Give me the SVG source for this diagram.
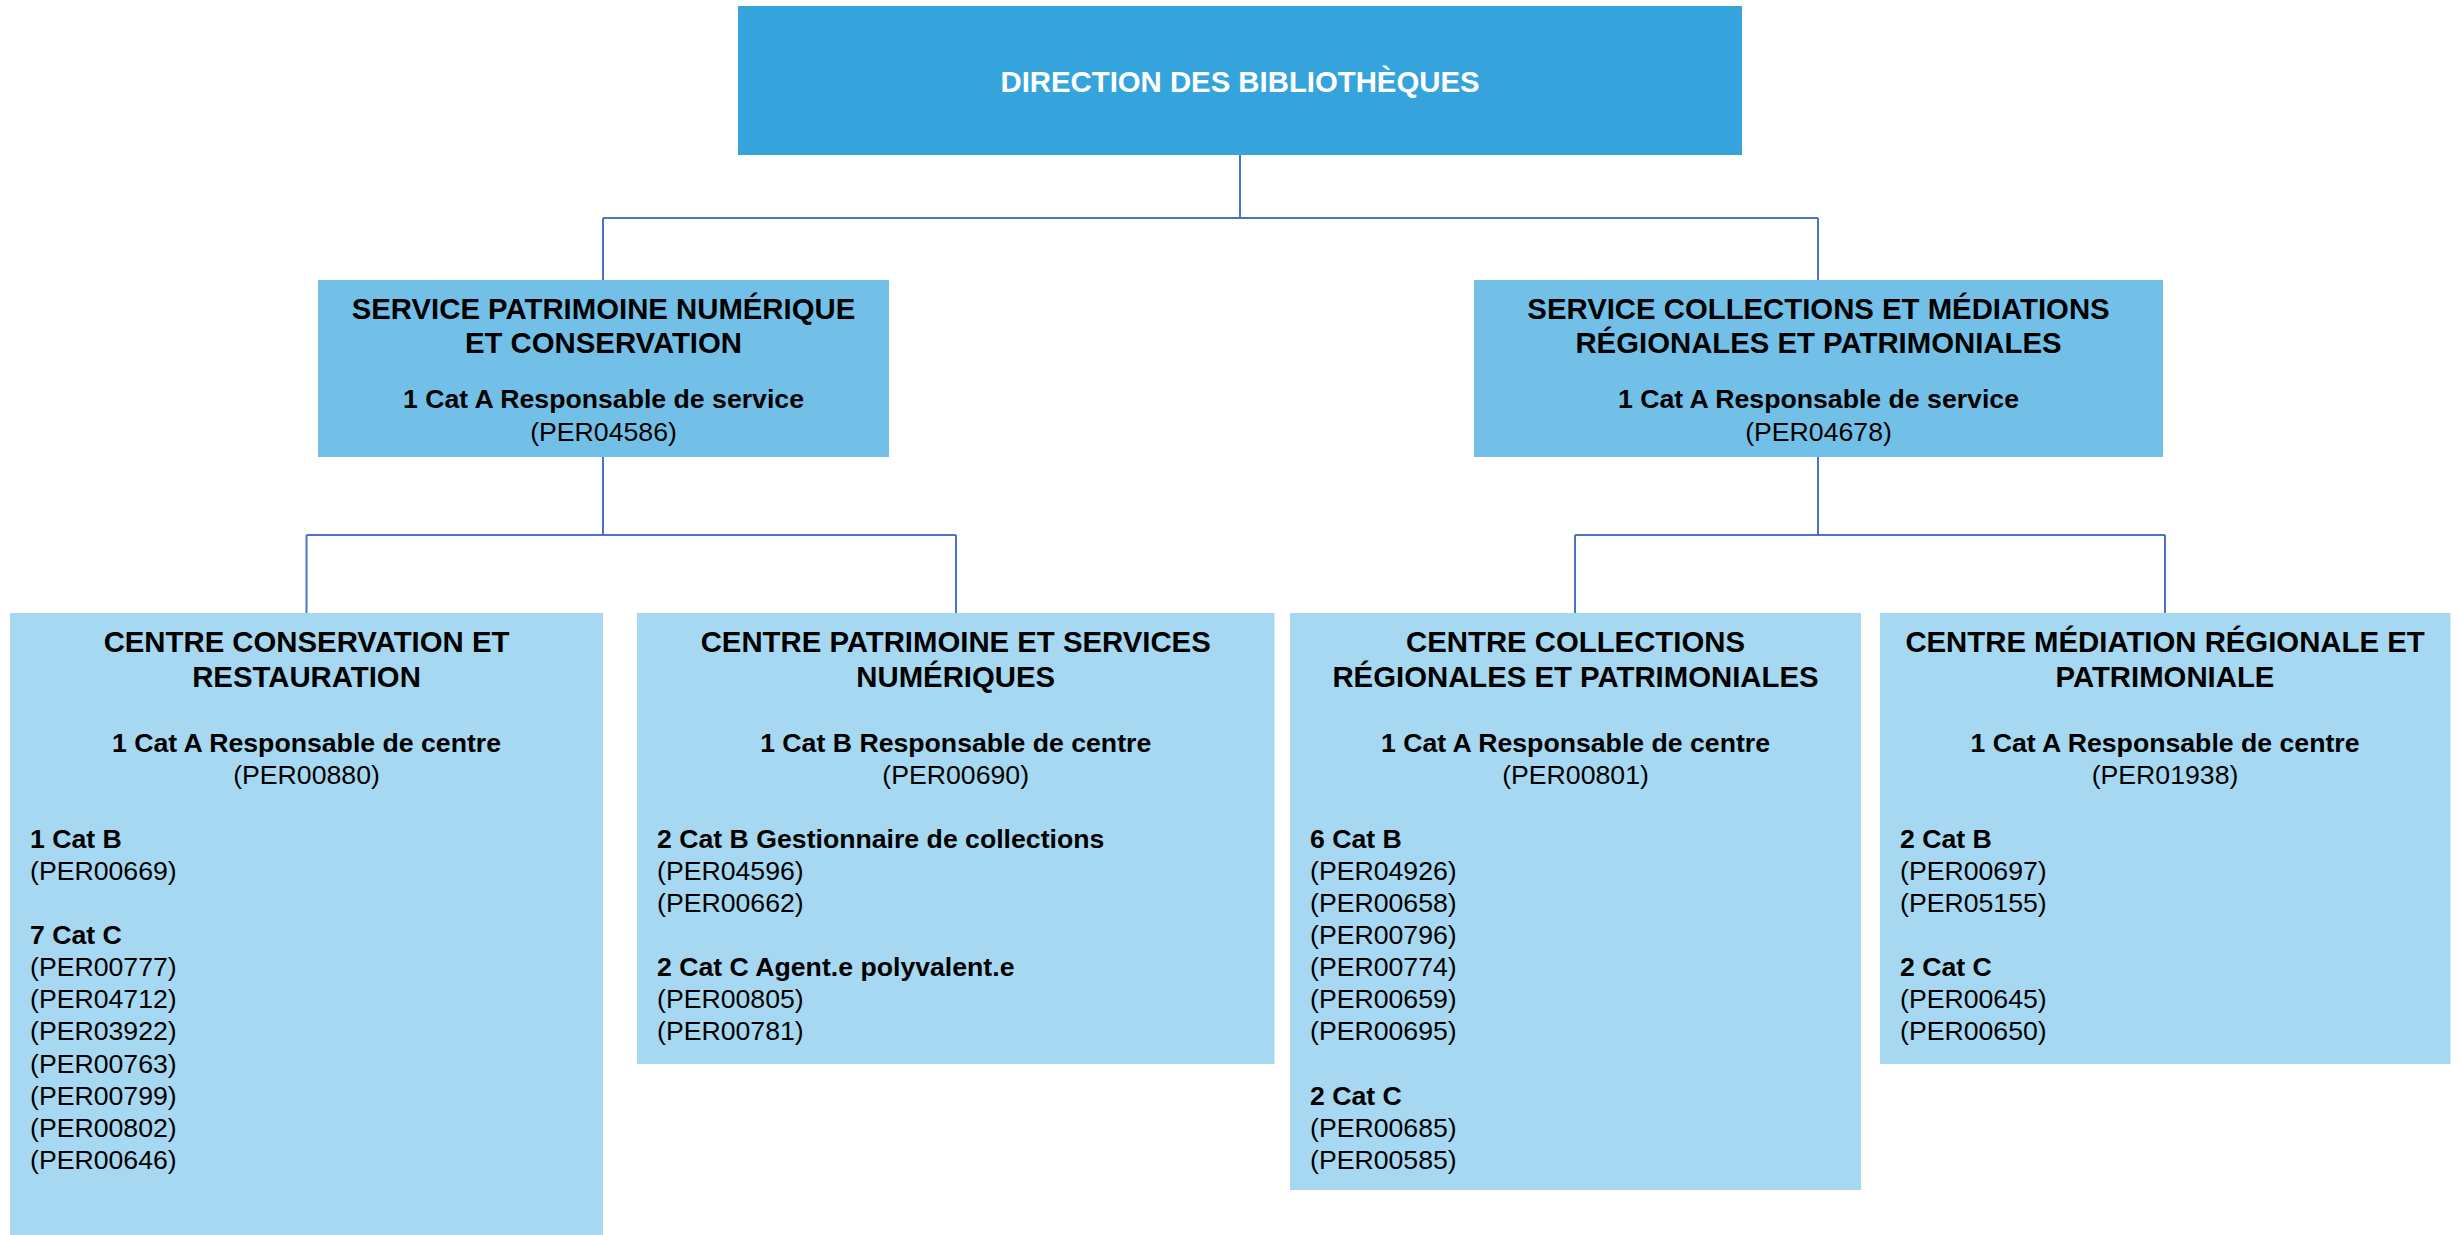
<svg xmlns="http://www.w3.org/2000/svg" width="2461" height="1235" viewBox="0 0 2461 1235">
<style>
text{font-family:"Liberation Sans",Arial,sans-serif;fill:#000}
.t{font-size:29.33px;font-weight:bold}
.b{font-size:26.67px;font-weight:bold}
.r{font-size:26.67px}
.c{text-anchor:middle}
.w{fill:#fff}
.top{fill:#35A4DD}
.svc{fill:#72C0E8}
.ctr{fill:#A6D8F1}
.conn{fill:none;stroke:#4A72C8;stroke-width:2}
</style>
<rect width="2461" height="1235" fill="#fff"/>
<g id="connectors" class="conn">
<path d="M1240,155V218M603,218H1818M603,218V280M1818,218V280"/>
<path d="M603,457V535M306.5,535H956M306.5,535V613M956,535V613"/>
<path d="M1818,457V535M1575,535H2165M1575,535V613M2165,535V613"/>
</g>
<g id="direction">
<rect class="top" x="738" y="6" width="1004" height="149"/>
<text class="t c w" x="1240" y="92">DIRECTION DES BIBLIOTHÈQUES</text>
</g>
<g id="service-patrimoine">
<rect class="svc" x="318" y="280" width="571" height="177"/>
<text class="t c" x="603.5" y="319">SERVICE PATRIMOINE NUMÉRIQUE</text>
<text class="t c" x="603.5" y="353">ET CONSERVATION</text>
<text class="b c" x="603.5" y="408">1 Cat A Responsable de service</text>
<text class="r c" x="603.5" y="440.5">(PER04586)</text>
</g>
<g id="service-collections">
<rect class="svc" x="1474" y="280" width="689" height="177"/>
<text class="t c" x="1818.5" y="319">SERVICE COLLECTIONS ET MÉDIATIONS</text>
<text class="t c" x="1818.5" y="353">RÉGIONALES ET PATRIMONIALES</text>
<text class="b c" x="1818.5" y="408">1 Cat A Responsable de service</text>
<text class="r c" x="1818.5" y="440.5">(PER04678)</text>
</g>
<g id="centre-conservation">
<rect class="ctr" x="10" y="613" width="593" height="622"/>
<text class="t c" x="306.5" y="652">CENTRE CONSERVATION ET</text>
<text class="t c" x="306.5" y="687">RESTAURATION</text>
<text class="b c" x="306.5" y="751.5">1 Cat A Responsable de centre</text>
<text class="r c" x="306.5" y="783.6">(PER00880)</text>
<text class="b" x="30" y="847.8">1 Cat B</text>
<text class="r" x="30" y="879.9">(PER00669)</text>
<text class="b" x="30" y="944.1">7 Cat C</text>
<text class="r" x="30" y="976.2">(PER00777)</text>
<text class="r" x="30" y="1008.3">(PER04712)</text>
<text class="r" x="30" y="1040.4">(PER03922)</text>
<text class="r" x="30" y="1072.5">(PER00763)</text>
<text class="r" x="30" y="1104.6">(PER00799)</text>
<text class="r" x="30" y="1136.7">(PER00802)</text>
<text class="r" x="30" y="1168.8">(PER00646)</text>
</g>
<g id="centre-patrimoine-numerique">
<rect class="ctr" x="637" y="613" width="637.5" height="451"/>
<text class="t c" x="955.7" y="652">CENTRE PATRIMOINE ET SERVICES</text>
<text class="t c" x="955.7" y="687">NUMÉRIQUES</text>
<text class="b c" x="955.7" y="751.5">1 Cat B Responsable de centre</text>
<text class="r c" x="955.7" y="783.6">(PER00690)</text>
<text class="b" x="657" y="847.8">2 Cat B Gestionnaire de collections</text>
<text class="r" x="657" y="879.9">(PER04596)</text>
<text class="r" x="657" y="912">(PER00662)</text>
<text class="b" x="657" y="976.2">2 Cat C Agent.e polyvalent.e</text>
<text class="r" x="657" y="1008.3">(PER00805)</text>
<text class="r" x="657" y="1040.4">(PER00781)</text>
</g>
<g id="centre-collections">
<rect class="ctr" x="1290" y="613" width="571" height="577"/>
<text class="t c" x="1575.5" y="652">CENTRE COLLECTIONS</text>
<text class="t c" x="1575.5" y="687">RÉGIONALES ET PATRIMONIALES</text>
<text class="b c" x="1575.5" y="751.5">1 Cat A Responsable de centre</text>
<text class="r c" x="1575.5" y="783.6">(PER00801)</text>
<text class="b" x="1310" y="847.8">6 Cat B</text>
<text class="r" x="1310" y="879.9">(PER04926)</text>
<text class="r" x="1310" y="912">(PER00658)</text>
<text class="r" x="1310" y="944.1">(PER00796)</text>
<text class="r" x="1310" y="976.2">(PER00774)</text>
<text class="r" x="1310" y="1008.3">(PER00659)</text>
<text class="r" x="1310" y="1040.4">(PER00695)</text>
<text class="b" x="1310" y="1104.6">2 Cat C</text>
<text class="r" x="1310" y="1136.7">(PER00685)</text>
<text class="r" x="1310" y="1168.8">(PER00585)</text>
</g>
<g id="centre-mediation">
<rect class="ctr" x="1880" y="613" width="570.5" height="451"/>
<text class="t c" x="2165" y="652">CENTRE MÉDIATION RÉGIONALE ET</text>
<text class="t c" x="2165" y="687">PATRIMONIALE</text>
<text class="b c" x="2165" y="751.5">1 Cat A Responsable de centre</text>
<text class="r c" x="2165" y="783.6">(PER01938)</text>
<text class="b" x="1900" y="847.8">2 Cat B</text>
<text class="r" x="1900" y="879.9">(PER00697)</text>
<text class="r" x="1900" y="912">(PER05155)</text>
<text class="b" x="1900" y="976.2">2 Cat C</text>
<text class="r" x="1900" y="1008.3">(PER00645)</text>
<text class="r" x="1900" y="1040.4">(PER00650)</text>
</g>
</svg>
